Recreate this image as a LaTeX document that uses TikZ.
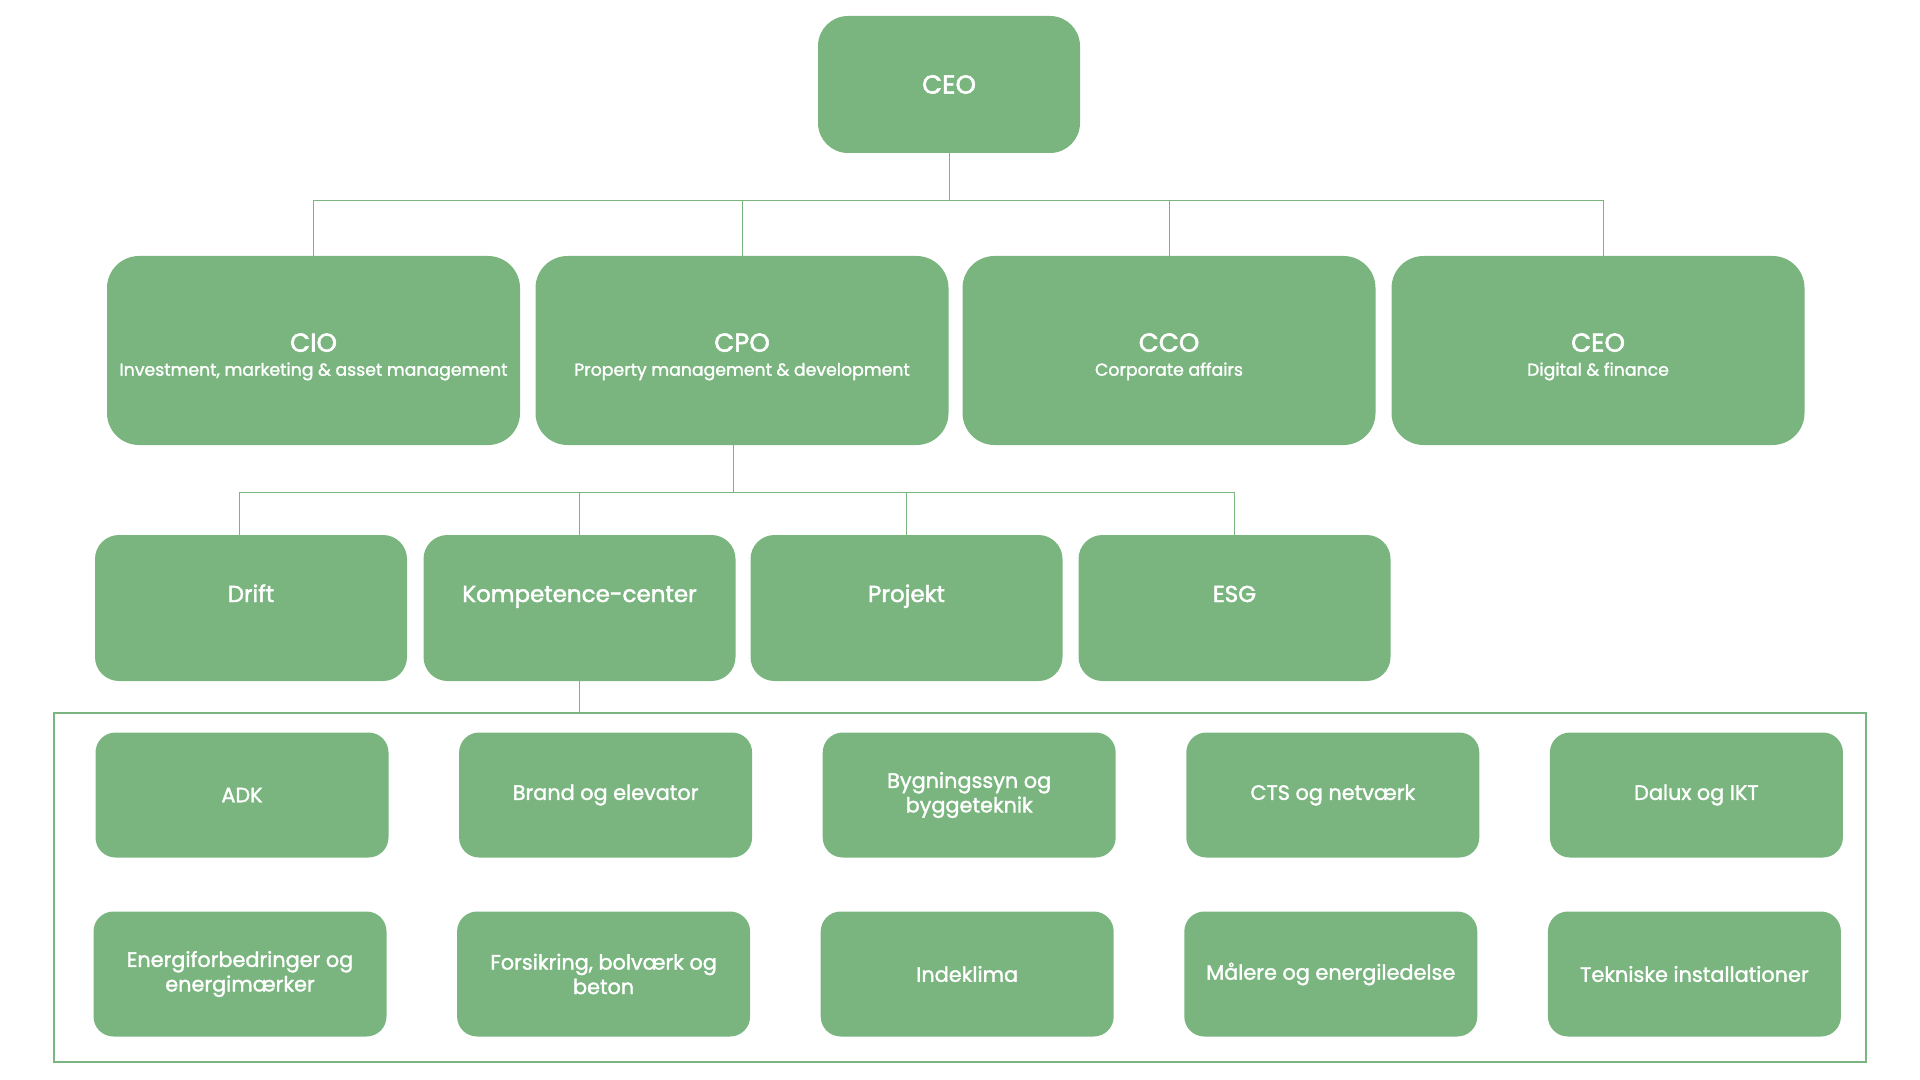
\documentclass[tikz,border=0pt]{standalone}
\usepackage{fontspec}
\setmainfont{Poppins}[FakeBold=1.6]
\newfontfamily\headfont{Poppins}[FakeBold=2]
\usetikzlibrary{calc}
\definecolor{orggreen}{HTML}{7AB57F}

\begin{document}
\begin{tikzpicture}[x=0.5pt,y=-0.5pt,
	box/.style={fill=orggreen,draw=none,text=white,align=center,inner sep=0pt},
	topbox/.style={box,rounded corners=15pt,minimum width=131pt,minimum height=68.5pt,font=\headfont\fontsize{13}{15}\selectfont},
	chiefbox/.style={box,rounded corners=16pt,minimum width=206.5pt,minimum height=94.5pt,text height=26pt,text depth=0.8pt},
	deptbox/.style={box,rounded corners=12pt,minimum width=156pt,minimum height=73pt,font=\headfont\fontsize{11.5}{14}\selectfont,text height=8pt,text depth=14pt},
	teambox/.style={box,rounded corners=10pt,minimum width=146.5pt,minimum height=62.5pt,font=\fontsize{10.4}{12.25}\selectfont},
	conn/.style={draw=orggreen,line width=0.5pt}]
	\useasboundingbox (0,0) rectangle (1920,1080); %ramme
	\node[topbox] (ceo) at (949,84.5) {CEO}; %top
	\node[chiefbox] (cio) at (313.5,350.5) {{\headfont\fontsize{13}{16}\selectfont CIO}\\{\fontsize{8.65}{11}\selectfont Investment, marketing \& asset management}};
	\node[chiefbox] (cpo) at (742,350.5) {{\headfont\fontsize{13}{16}\selectfont CPO}\\{\fontsize{8.65}{11}\selectfont Property management \& development}};
	\node[chiefbox] (cco) at (1169,350.5) {{\headfont\fontsize{13}{16}\selectfont CCO}\\{\fontsize{8.65}{11}\selectfont Corporate affairs}};
	\node[chiefbox] (cdo) at (1598,350.5) {{\headfont\fontsize{13}{16}\selectfont CEO}\\{\fontsize{8.65}{11}\selectfont Digital \& finance}};
	\coordinate (bus1) at (949,201); %vandret linje under CEO
	\draw[conn] (ceo.south) -- (bus1);
	\foreach \n in {cio,cpo,cco} \draw[conn] (\n.north) |- (bus1);
	\draw[conn] ([xshift=2.5pt]cdo.north) |- (bus1);
	\node[deptbox] (drift) at (251,608) {Drift}; %afdelinger under CPO
	\node[deptbox] (komp) at (579.5,608) {Kompetence-center};
	\node[deptbox] (projekt) at (906.5,608) {Projekt};
	\node[deptbox] (esg) at (1234.5,608) {ESG};
	\coordinate (bus2) at (733,492);
	\draw[conn] (bus2 |- cpo.south) -- (bus2);
	\draw[conn] ([xshift=-6pt]drift.north) |- (bus2);
	\foreach \n in {komp,projekt,esg} \draw[conn] (\n.north) |- (bus2);
	\node[draw=orggreen,line width=1pt,minimum width=906pt,minimum height=174.5pt,inner sep=0pt] (grp) at (960,887.5) {}; %kompetencecenter gruppe
	\draw[conn] (komp.south) -- (komp.south |- grp.north);
	\foreach \t [count=\i from 0] in {ADK,Brand og elevator,Bygningssyn og\\byggeteknik,CTS og netværk,Dalux og IKT}
		\node[teambox] (a\i) at (242+363.6*\i,795) {\t}; %foerste raekke
	\foreach \t [count=\i from 0] in {Energiforbedringer og\\energimærker,{Forsikring, bolværk og\\beton},Indeklima,Målere og energiledelse,Tekniske installationer}
		\node[teambox] (b\i) at (240+363.6*\i,974) {\t}; %anden raekke
\end{tikzpicture}
\end{document}
